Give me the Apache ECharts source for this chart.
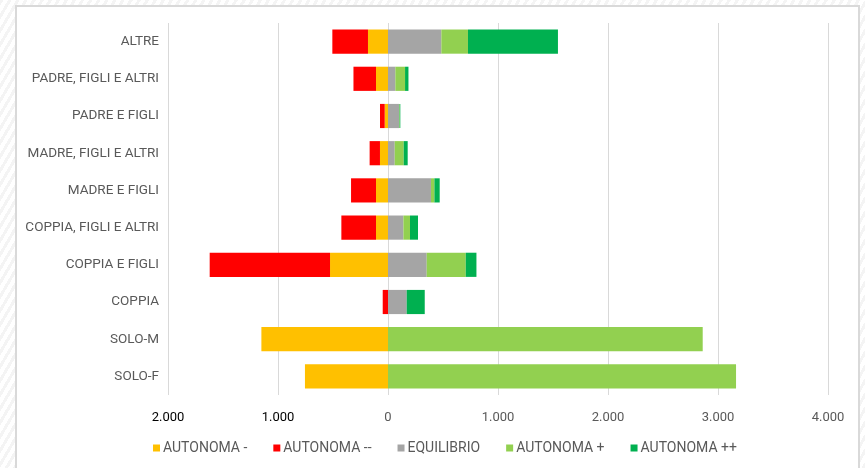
<!DOCTYPE html>
<html><head><meta charset="utf-8">
<script src="https://cdn.jsdelivr.net/npm/echarts@6/dist/echarts.min.js"></script>
<style>
html,body{margin:0;padding:0;}
body{width:865px;height:468px;background:repeating-linear-gradient(120deg,#f4f4f4 0 3px,#ffffff 3px 7px);}
#frame{position:absolute;left:15px;top:5px;width:845px;height:470px;background:#fff;border:2px solid #d9d9d9;box-sizing:border-box;}
#c{position:absolute;left:0;top:0;width:865px;height:468px;}
</style></head>
<body><div id="frame"></div><div id="c"></div>
<script>
const categories = ['ALTRE','PADRE, FIGLI E ALTRI','PADRE E FIGLI','MADRE, FIGLI E ALTRI','MADRE E FIGLI','COPPIA, FIGLI E ALTRI','COPPIA E FIGLI','COPPIA','SOLO-M','SOLO-F'];
const autonomaMeno     = [-182, -109, -30, -73, -109, -109, -527,   0, -1151, -755];
const autonomaMenoMeno = [-324, -205, -43, -94, -227, -315, -1094, -48,    0,    0];
const equilibrio       = [485, 67, 100, 61, 391, 140, 352, 170, 0, 0];
const autonomaPiu      = [242, 88, 6, 82, 31, 60, 355, 0, 2861, 3164];
const autonomaPiuPiu   = [818, 31, 6, 36, 48, 73, 97, 164, 0, 0];
const seriesNames = ['AUTONOMA -','AUTONOMA --','EQUILIBRIO','AUTONOMA +','AUTONOMA ++'];
const seriesColors = ['#FFC000','#FF0000','#A5A5A5','#92D050','#00B050'];
const seriesData = [autonomaMeno, autonomaMenoMeno, equilibrio, autonomaPiu, autonomaPiuPiu];

const chart = echarts.init(document.getElementById('c'), null, {renderer:'canvas'});
const font = 'Roboto, "Liberation Sans", sans-serif';
function fmt(v){
  const a = Math.abs(v);
  if (a === 0) return '0';
  return String(a).replace(/\B(?=(\d{3})+(?!\d))/g, '.');
}
chart.setOption({
  backgroundColor: 'transparent',
  animation: false,
  grid: {left: 168, right: 37, top: 23, bottom: 73, containLabel: false},
  legend: {
    top: 436, left: 148,
    itemWidth: 7, itemHeight: 7, itemGap: 26, icon: 'rect',
    textStyle: {color: '#595959', fontSize: 14, fontFamily: font, padding:[0,0,0,-2]},
    data: seriesNames
  },
  xAxis: {
    type: 'value', min: -2000, max: 4000, interval: 1000,
    axisLine: {show: false}, axisTick: {show: false},
    splitLine: {lineStyle: {color: '#D9D9D9', width: 1}},
    axisLabel: {
      margin: 16, fontSize: 13, fontFamily: font,
      formatter: function(v){ return v < 0 ? '{n|' + fmt(v) + '}' : '{p|' + fmt(v) + '}'; },
      rich: {n: {color: '#000000', fontSize: 13, fontFamily: font}, p: {color: '#595959', fontSize: 13, fontFamily: font}}
    }
  },
  yAxis: {
    type: 'category', inverse: true, data: categories,
    axisLine: {show: false}, axisTick: {show: false},
    axisLabel: {color: '#595959', fontSize: 13.5, fontFamily: font, margin: 9}
  },
  series: seriesNames.map((n, i) => ({
    name: n, type: 'bar', stack: 'tot', barWidth: '65%',
    itemStyle: {color: seriesColors[i]},
    data: seriesData[i]
  }))
});
</script>
</body></html>
